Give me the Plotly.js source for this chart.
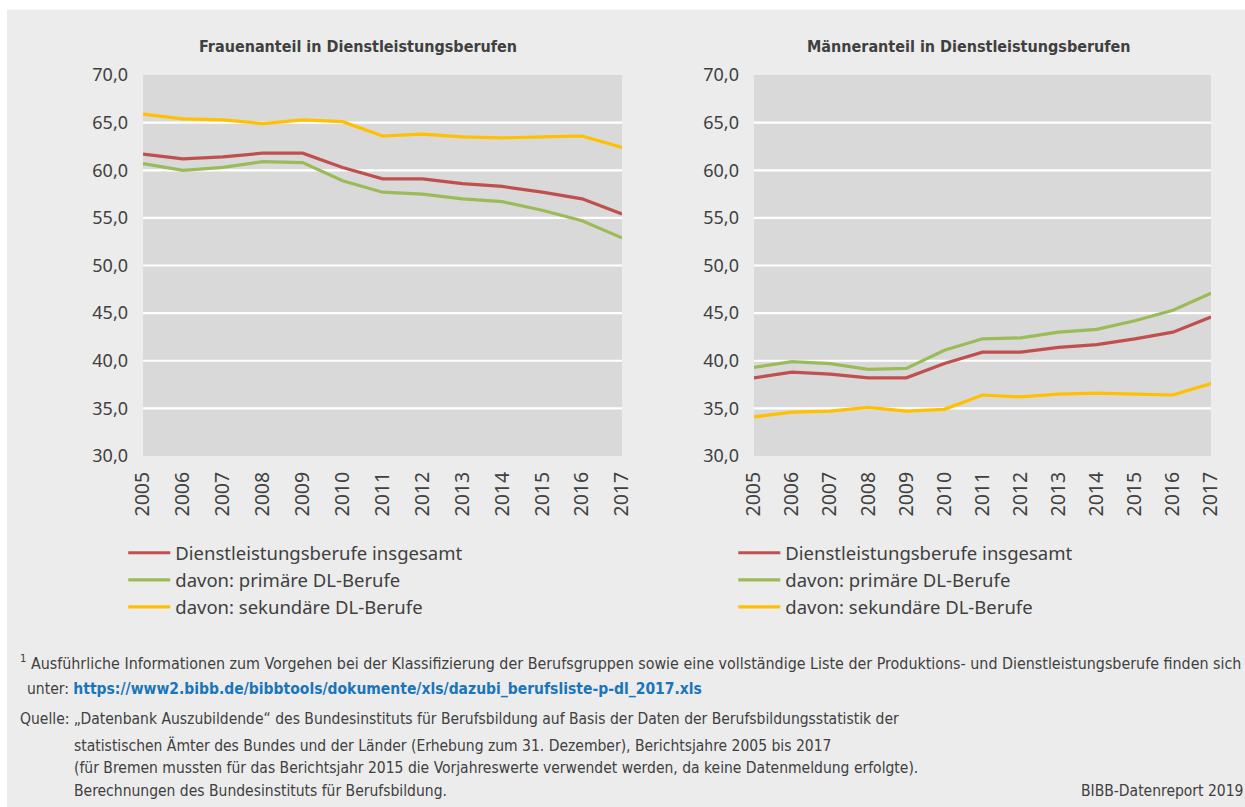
<!DOCTYPE html>
<html>
<head>
<meta charset="utf-8">
<script src="https://cdn.plot.ly/plotly-3.0.1.min.js"></script>
<style>html,body{margin:0;padding:0;background:#fff;}#chart{width:1245px;height:807px;}</style>
</head>
<body>
<div id="chart"></div>
<script>
const years = [2005, 2006, 2007, 2008, 2009, 2010, 2011, 2012, 2013, 2014, 2015, 2016, 2017];
const seriesNames = ["Dienstleistungsberufe insgesamt", "davon: primäre DL-Berufe", "davon: sekundäre DL-Berufe"];
// Frauenanteil
const frauenGesamt   = [61.7, 61.2, 61.4, 61.8, 61.8, 60.3, 59.1, 59.1, 58.6, 58.3, 57.7, 57.0, 55.4];
const frauenPrimaer  = [60.7, 60.0, 60.3, 60.9, 60.8, 58.9, 57.7, 57.5, 57.0, 56.7, 55.8, 54.7, 52.9];
const frauenSekundaer= [65.9, 65.4, 65.3, 64.9, 65.3, 65.1, 63.6, 63.8, 63.5, 63.4, 63.5, 63.6, 62.4];
// Männeranteil
const maennerGesamt   = [38.2, 38.8, 38.6, 38.2, 38.2, 39.7, 40.9, 40.9, 41.4, 41.7, 42.3, 43.0, 44.6];
const maennerPrimaer  = [39.3, 39.9, 39.7, 39.1, 39.2, 41.1, 42.3, 42.4, 43.0, 43.3, 44.2, 45.3, 47.1];
const maennerSekundaer= [34.1, 34.6, 34.7, 35.1, 34.7, 34.9, 36.4, 36.2, 36.5, 36.6, 36.5, 36.4, 37.6];
const yTicks = [30, 35, 40, 45, 50, 55, 60, 65, 70];
const yTickLabels = ["30,0", "35,0", "40,0", "45,0", "50,0", "55,0", "60,0", "65,0", "70,0"];

const colors = ["#c0504d", "#9bbb59", "#ffc000"];
const txt = "#404040";
const baseFont = "Noto Sans, Liberation Sans, sans-serif";
const narrow = "DejaVu Sans Condensed, Liberation Sans Narrow, sans-serif";

function mk(y, i, xa, ya, lg) {
  return {x: years, y: y, type: "scatter", mode: "lines", name: seriesNames[i],
    xaxis: xa, yaxis: ya, legend: lg, line: {color: colors[i], width: 3.2}, hoverinfo: "x+y"};
}
const data = [
  mk(frauenGesamt, 0, "x", "y", "legend"),
  mk(frauenPrimaer, 1, "x", "y", "legend"),
  mk(frauenSekundaer, 2, "x", "y", "legend"),
  mk(maennerGesamt, 0, "x2", "y2", "legend2"),
  mk(maennerPrimaer, 1, "x2", "y2", "legend2"),
  mk(maennerSekundaer, 2, "x2", "y2", "legend2")
];

const xax = (dom) => ({domain: dom, range: [2005, 2017], tickmode: "array", tickvals: years,
  ticktext: years.map(String), tickangle: -90, showgrid: false, zeroline: false, showline: false,
  ticks: "", ticklabelstandoff: 11, tickfont: {family: baseFont, size: 19.5, color: txt}, fixedrange: true});
const yax = (anchor) => ({domain: [0.435, 0.907], range: [30, 70], tickmode: "array", tickvals: yTicks,
  ticktext: yTickLabels, showgrid: false, zeroline: false,
  showline: false, ticks: "", ticklabelstandoff: 14, anchor: anchor,
  tickfont: {family: baseFont, size: 18, color: txt}, fixedrange: true});

// inner white gridlines, positioned through the y scales
const gridShapes = [];
["y", "y2"].forEach((yr, k) => {
  yTicks.slice(1, -1).forEach(v => {
    gridShapes.push({type: "line", xref: k ? "x2 domain" : "x domain", yref: yr, x0: 0, x1: 1, y0: v, y1: v,
      line: {color: "#ffffff", width: 2.2}, layer: "below"});
  });
});

const fn = {family: narrow, size: 15.5, color: txt};
const layout = {
  width: 1245, height: 807,
  paper_bgcolor: "#ececec", plot_bgcolor: "#d9d9d9",
  margin: {l: 0, r: 0, t: 0, b: 0},
  showlegend: true,
  xaxis: Object.assign(xax([0.1149, 0.4996]), {anchor: "y"}),
  yaxis: yax("x"),
  xaxis2: Object.assign(xax([0.6056, 0.9727]), {anchor: "y2"}),
  yaxis2: yax("x2"),
  legend: {x: 0.099, y: 0.338, xanchor: "left", yanchor: "top", bgcolor: "rgba(0,0,0,0)",
    font: {family: baseFont, size: 18.5, color: txt}, tracegroupgap: 0, itemwidth: 42},
  legend2: {x: 0.589, y: 0.338, xanchor: "left", yanchor: "top", bgcolor: "rgba(0,0,0,0)",
    font: {family: baseFont, size: 18.5, color: txt}, tracegroupgap: 0, itemwidth: 42},
  shapes: [
    {type: "rect", xref: "paper", yref: "paper", x0: 0, x1: 1, y0: 0.988, y1: 1.01, fillcolor: "#ffffff", line: {width: 0}, layer: "below"},
    {type: "rect", xref: "paper", yref: "paper", x0: -0.01, x1: 0.0056, y0: -0.01, y1: 1.01, fillcolor: "#ffffff", line: {width: 0}, layer: "below"}
  ].concat(gridShapes),
  annotations: [
    {text: "<b>Frauenanteil in Dienstleistungsberufen</b>", xref: "paper", yref: "paper", x: 0.2875, y: 0.942,
      xanchor: "center", yanchor: "middle", showarrow: false, font: {family: narrow, size: 16, color: txt}},
    {text: "<b>Männeranteil in Dienstleistungsberufen</b>", xref: "paper", yref: "paper", x: 0.778, y: 0.942,
      xanchor: "center", yanchor: "middle", showarrow: false, font: {family: narrow, size: 16, color: txt}},
    {text: "<sup>1</sup> Ausführliche Informationen zum Vorgehen bei der Klassifizierung der Berufsgruppen sowie eine vollständige Liste der Produktions- und Dienstleistungsberufe finden sich",
      xref: "paper", yref: "paper", x: 0.0145, y: 1 - 662/807, xanchor: "left", yanchor: "middle", showarrow: false,
      font: {family: narrow, size: 15.9, color: txt}},
    {text: "unter: <b><span style='color:#1a75bb'>https://www2.bibb.de/bibbtools/dokumente/xls/dazubi_berufsliste-p-dl_2017.xls</span></b>",
      xref: "paper", yref: "paper", x: 0.02, y: 1 - 689/807, xanchor: "left", yanchor: "middle", showarrow: false, font: fn},
    {text: "Quelle: „Datenbank Auszubildende“ des Bundesinstituts für Berufsbildung auf Basis der Daten der Berufsbildungsstatistik der",
      xref: "paper", yref: "paper", x: 0.0145, y: 1 - 719/807, xanchor: "left", yanchor: "middle", showarrow: false, font: fn},
    {text: "statistischen Ämter des Bundes und der Länder (Erhebung zum 31. Dezember), Berichtsjahre 2005 bis 2017",
      xref: "paper", yref: "paper", x: 0.058, y: 1 - 745/807, xanchor: "left", yanchor: "middle", showarrow: false, font: fn},
    {text: "(für Bremen mussten für das Berichtsjahr 2015 die Vorjahreswerte verwendet werden, da keine Datenmeldung erfolgte).",
      xref: "paper", yref: "paper", x: 0.058, y: 1 - 768/807, xanchor: "left", yanchor: "middle", showarrow: false, font: fn},
    {text: "Berechnungen des Bundesinstituts für Berufsbildung.",
      xref: "paper", yref: "paper", x: 0.058, y: 1 - 791/807, xanchor: "left", yanchor: "middle", showarrow: false, font: fn},
    {text: "BIBB-Datenreport 2019",
      xref: "paper", yref: "paper", x: 1.0, y: 1 - 791/807, xanchor: "right", yanchor: "middle", showarrow: false, font: fn}
  ]
};
Plotly.newPlot("chart", data, layout, {displayModeBar: false, staticPlot: true});
</script>
</body>
</html>
